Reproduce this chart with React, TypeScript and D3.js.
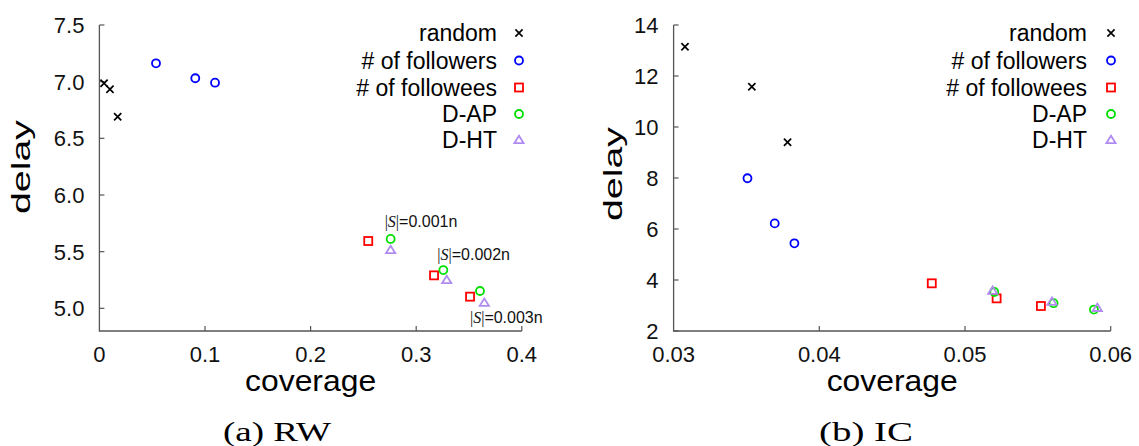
import React from "react";
import * as d3 from "d3";

// ---------- data ----------
const legendLabels = ["random", "# of followers", "# of followees", "D-AP", "D-HT"];
const seriesColors = ["#000000", "#0000ff", "#ff0000", "#00e000", "#b08cf0"];
const seriesShapes = ["cross", "circle", "square", "circle", "triangle"];

// Panel (a) RW
const rwRandomX = [0.0044, 0.0100, 0.0173];
const rwRandomY = [6.986, 6.933, 6.691];
const rwFollowersX = [0.0536, 0.0908, 0.1095];
const rwFollowersY = [7.162, 7.030, 6.991];
const rwFolloweesX = [0.2546, 0.3169, 0.3510];
const rwFolloweesY = [5.594, 5.291, 5.103];
const rwDapX = [0.2758, 0.3257, 0.3604];
const rwDapY = [5.612, 5.338, 5.153];
const rwDhtX = [0.2758, 0.3289, 0.3645];
const rwDhtY = [5.515, 5.250, 5.050];
const rwXTicks = [0, 0.1, 0.2, 0.3, 0.4];
const rwXTickLabels = ["0", "0.1", "0.2", "0.3", "0.4"];
const rwYTicks = [5.0, 5.5, 6.0, 6.5, 7.0, 7.5];
const rwYTickLabels = ["5.0", "5.5", "6.0", "6.5", "7.0", "7.5"];
const rwXDomain = [0, 0.4];
const rwYDomain = [4.8, 7.5];
const rwAnnotations = ["0.001n", "0.002n", "0.003n"];

// Panel (b) IC
const icRandomX = [0.03078, 0.03537, 0.03782];
const icRandomY = [13.15, 11.58, 9.40];
const icFollowersX = [0.03507, 0.03694, 0.03829];
const icFollowersY = [7.99, 6.22, 5.44];
const icFolloweesX = [0.04772, 0.05217, 0.05521];
const icFolloweesY = [3.87, 3.28, 2.98];
const icDapX = [0.05201, 0.05608, 0.05885];
const icDapY = [3.53, 3.09, 2.84];
const icDhtX = [0.05190, 0.05597, 0.05908];
const icDhtY = [3.58, 3.15, 2.91];
const icXTicks = [0.03, 0.04, 0.05, 0.06];
const icXTickLabels = ["0.03", "0.04", "0.05", "0.06"];
const icYTicks = [2, 4, 6, 8, 10, 12, 14];
const icYTickLabels = ["2", "4", "6", "8", "10", "12", "14"];
const icXDomain = [0.03, 0.06];
const icYDomain = [2, 14];

const SANS = "'Liberation Sans', Arial, Helvetica, sans-serif";
const SERIF = "'Liberation Serif', 'Times New Roman', serif";
const AXIS = "#555";

type Pt = { x: number; y: number };
const zip = (xs: number[], ys: number[]): Pt[] => xs.map((x, i) => ({ x, y: ys[i] }));

function Marker({ shape, color, cx, cy }: { shape: string; color: string; cx: number; cy: number }) {
  const sw = 1.8;
  if (shape === "cross") {
    const s = 3.6;
    return (
      <path
        d={`M${cx - s},${cy - s}L${cx + s},${cy + s}M${cx - s},${cy + s}L${cx + s},${cy - s}`}
        stroke={color}
        strokeWidth={1.7}
        fill="none"
      />
    );
  }
  if (shape === "circle") return <circle cx={cx} cy={cy} r={4} stroke={color} strokeWidth={sw} fill="none" />;
  if (shape === "square")
    return <rect x={cx - 4} y={cy - 4} width={8} height={8} stroke={color} strokeWidth={sw} fill="none" />;
  // triangle
  return (
    <path
      d={`M${cx},${cy - 4.2}L${cx + 4.6},${cy + 3.2}L${cx - 4.6},${cy + 3.2}Z`}
      stroke={color}
      strokeWidth={sw}
      fill="none"
    />
  );
}

function Panel(props: {
  left: number;
  right: number;
  top: number;
  bottom: number;
  xDomain: number[];
  yDomain: number[];
  xTicks: number[];
  xTickLabels: string[];
  yTicks: number[];
  yTickLabels: string[];
  series: Pt[][];
  legendTextX: number;
  legendMarkerX: number;
  yLabelX: number;
  yLabelY: number;
  caption: string;
  captionX: number;
  captionLen: number;
  annotations?: string[];
}) {
  const x = d3.scaleLinear().domain(props.xDomain).range([props.left, props.right]);
  const y = d3.scaleLinear().domain(props.yDomain).range([props.bottom, props.top]);
  const tl = 5;
  const legendRows = [33, 60.5, 87.5, 114, 140];
  // annotation anchors relative to D-AP points
  const annOffsets = [
    [-6, -12],
    [-6, -10],
    [-10, 32],
  ];
  return (
    <g>
      {/* axes */}
      <path
        d={`M${props.left},${props.top}V${props.bottom}H${props.right}`}
        stroke={AXIS}
        strokeWidth={1.3}
        fill="none"
      />
      {props.yTicks.map((t, i) => (
        <g key={"yt" + i}>
          <line x1={props.left} x2={props.left + tl} y1={y(t)} y2={y(t)} stroke={AXIS} strokeWidth={1.2} />
          <text
            x={props.left - 15}
            y={y(t)}
            dy="0.36em"
            textAnchor="end"
            fontFamily={SANS}
            fontSize={22}
            fill="#111"
          >
            {props.yTickLabels[i]}
          </text>
        </g>
      ))}
      {props.xTicks.map((t, i) => (
        <g key={"xt" + i}>
          {x(t) > props.left + 1 && (
            <line x1={x(t)} x2={x(t)} y1={props.bottom} y2={props.bottom - tl} stroke={AXIS} strokeWidth={1.2} />
          )}
          <text x={x(t)} y={362} textAnchor="middle" fontFamily={SANS} fontSize={22} fill="#111">
            {props.xTickLabels[i]}
          </text>
        </g>
      ))}
      {/* axis titles */}
      <text
        x={(props.left + props.right) / 2}
        y={391}
        textAnchor="middle"
        fontFamily={SANS}
        fontSize={30}
        fill="#000"
        textLength={131}
        lengthAdjust="spacingAndGlyphs"
      >
        coverage
      </text>
      <text
        transform={`translate(${props.yLabelX},${props.yLabelY}) rotate(-90)`}
        textAnchor="middle"
        fontFamily={SANS}
        fontSize={26}
        fill="#000"
        textLength={94}
        lengthAdjust="spacingAndGlyphs"
      >
        delay
      </text>
      {/* data */}
      {props.series.map((pts, si) =>
        pts.map((p, pi) => (
          <Marker key={`m${si}-${pi}`} shape={seriesShapes[si]} color={seriesColors[si]} cx={x(p.x)} cy={y(p.y)} />
        ))
      )}
      {/* annotations */}
      {props.annotations &&
        props.annotations.map((a, i) => {
          const p = props.series[3][i];
          return (
            <text
              key={"an" + i}
              x={x(p.x) + annOffsets[i][0]}
              y={y(p.y) + annOffsets[i][1]}
              fontFamily={SANS}
              fontSize={16}
              fill="#111"
            >
              <tspan fontFamily={SERIF}>|</tspan>
              <tspan fontFamily={SERIF} fontStyle="italic">
                S
              </tspan>
              <tspan fontFamily={SERIF}>|</tspan>
              <tspan>={a}</tspan>
            </text>
          );
        })}
      {/* legend */}
      {legendLabels.map((lab, i) => (
        <g key={"lg" + i}>
          <text
            x={props.legendTextX}
            y={legendRows[i]}
            dy="0.36em"
            textAnchor="end"
            fontFamily={SANS}
            fontSize={23}
            fill="#000"
          >
            {lab}
          </text>
          <Marker shape={seriesShapes[i]} color={seriesColors[i]} cx={props.legendMarkerX} cy={legendRows[i]} />
        </g>
      ))}
      {/* caption */}
      <text
        x={props.captionX}
        y={441}
        textAnchor="middle"
        fontFamily={SERIF}
        fontSize={27}
        fill="#000"
        textLength={props.captionLen}
        lengthAdjust="spacingAndGlyphs"
      >
        {props.caption}
      </text>
    </g>
  );
}

export default function App() {
  const rwSeries = [
    zip(rwRandomX, rwRandomY),
    zip(rwFollowersX, rwFollowersY),
    zip(rwFolloweesX, rwFolloweesY),
    zip(rwDapX, rwDapY),
    zip(rwDhtX, rwDhtY),
  ];
  const icSeries = [
    zip(icRandomX, icRandomY),
    zip(icFollowersX, icFollowersY),
    zip(icFolloweesX, icFolloweesY),
    zip(icDapX, icDapY),
    zip(icDhtX, icDhtY),
  ];
  return (
    <svg
      width={1139}
      height={446}
      style={{ position: "fixed", left: 0, top: 0, background: "#fff" }}
    >
      <rect width={1139} height={446} fill="#fff" />
      <Panel
        left={99.4}
        right={521.8}
        top={25}
        bottom={331}
        xDomain={rwXDomain}
        yDomain={rwYDomain}
        xTicks={rwXTicks}
        xTickLabels={rwXTickLabels}
        yTicks={rwYTicks}
        yTickLabels={rwYTickLabels}
        series={rwSeries}
        legendTextX={497}
        legendMarkerX={519}
        yLabelX={30}
        yLabelY={167}
        caption="(a) RW"
        captionX={277}
        captionLen={108}
        annotations={rwAnnotations}
      />
      <Panel
        left={673.6}
        right={1110.7}
        top={25}
        bottom={331}
        xDomain={icXDomain}
        yDomain={icYDomain}
        xTicks={icXTicks}
        xTickLabels={icXTickLabels}
        yTicks={icYTicks}
        yTickLabels={icYTickLabels}
        series={icSeries}
        legendTextX={1087}
        legendMarkerX={1111}
        yLabelX={622}
        yLabelY={174}
        caption="(b) IC"
        captionX={866}
        captionLen={94}
      />
    </svg>
  );
}
